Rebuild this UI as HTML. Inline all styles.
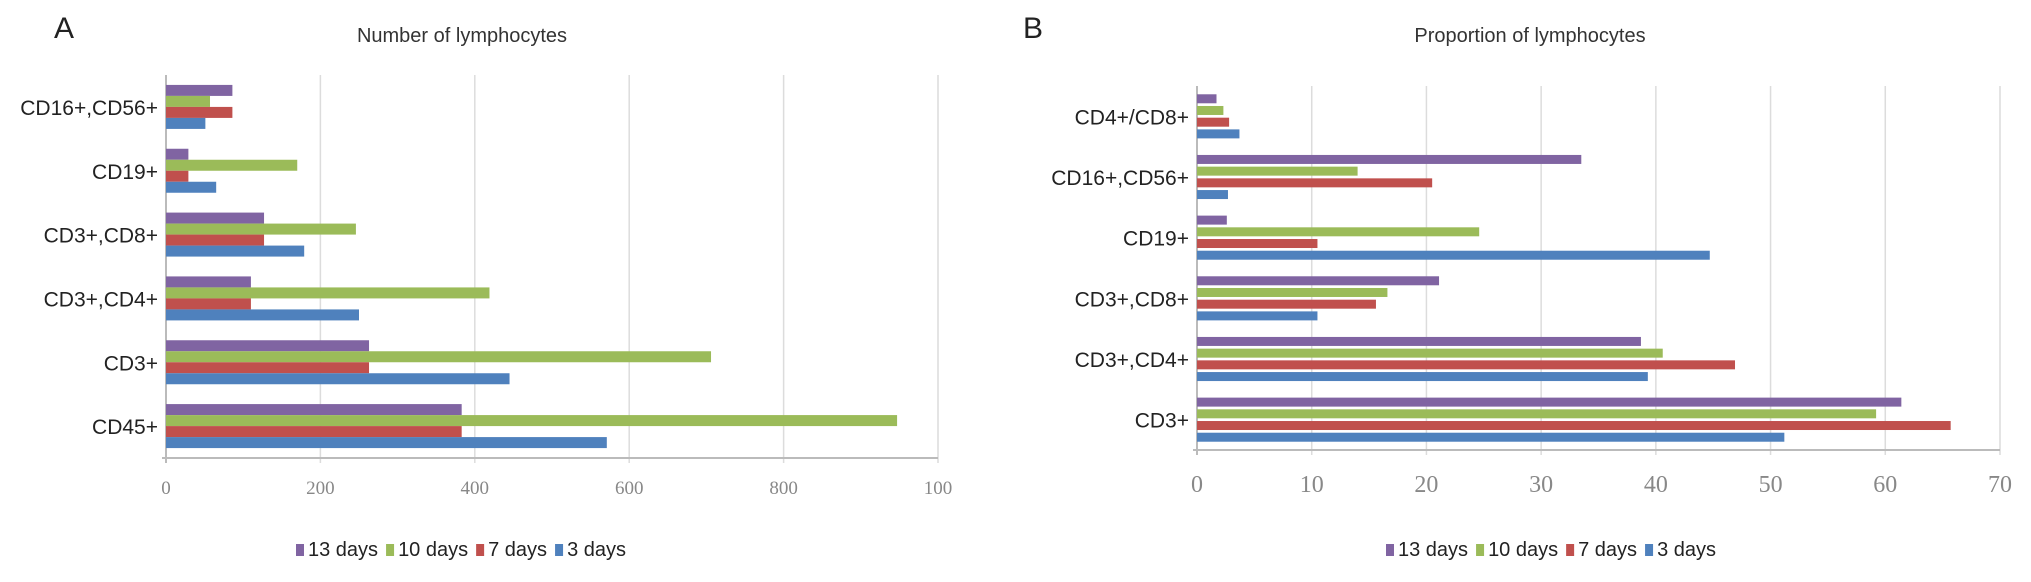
<!DOCTYPE html>
<html><head><meta charset="utf-8"><style>
html,body{margin:0;padding:0;background:#fff;width:2031px;height:582px;overflow:hidden}
svg text{font-family:"Liberation Sans",sans-serif}
svg text.tick{font-family:"Liberation Serif",serif}
</style></head><body>
<svg id="chart" width="2031" height="582">
<text x="54" y="38" font-size="30" fill="#222">A</text>
<text x="462" y="42" font-size="20" fill="#333" text-anchor="middle">Number of lymphocytes</text>
<text x="1023" y="38" font-size="30" fill="#222">B</text>
<text x="1530" y="42" font-size="20" fill="#333" text-anchor="middle">Proportion of lymphocytes</text>
<g id="pa"></g><g id="pb"></g>
</svg>
<script>
const seriesNames=["13 days","10 days","7 days","3 days"];
const seriesColors=["#8064a2","#9bbb59","#c0504d","#4f81bd"];
const catsA=["CD16+,CD56+","CD19+","CD3+,CD8+","CD3+,CD4+","CD3+","CD45+"];
const a13=[86,29,127,110,263,383];
const a10=[57,170,246,419,706,947];
const a7=[86,29,127,110,263,383];
const a3=[51,65,179,250,445,571];
const ticksA=["0","200","400","600","800","100"];
const catsB=["CD4+/CD8+","CD16+,CD56+","CD19+","CD3+,CD8+","CD3+,CD4+","CD3+"];
const b13=[1.7,33.5,2.6,21.1,38.7,61.4];
const b10=[2.3,14.0,24.6,16.6,40.6,59.2];
const b7=[2.8,20.5,10.5,15.6,46.9,65.7];
const b3=[3.7,2.7,44.7,10.5,39.3,51.2];
const ticksB=["0","10","20","30","40","50","60","70"];
const NS="http://www.w3.org/2000/svg";
function mk(parent,tag,attrs){const e=document.createElementNS(NS,tag);for(const k in attrs)e.setAttribute(k,attrs[k]);parent.appendChild(e);return e;}
function panel(g,o){
  const sx=v=>o.x0+(o.x1-o.x0)*v/o.max;
  const band=(o.yb-o.yt)/o.cats.length;
  o.ticks.forEach((t,i)=>{
    const v=o.max*i/(o.ticks.length-1);
    const gl=mk(g,"line",{x1:sx(v),x2:sx(v),y1:o.yt,y2:o.yb+5,stroke:i==0?"#bbb":"#dcdcdc","stroke-width":i==0?2:1.5});
    
    
    const tl=mk(g,"text",{x:sx(v),y:o.ty,"font-size":o.tfs,fill:"#888","text-anchor":"middle","class":"tick"});
    tl.textContent=t;
    
    
  });
  const ax=mk(g,"line",{x1:o.x0-4,x2:o.x1,y1:o.yb,y2:o.yb,stroke:"#bbb","stroke-width":2});
  
  
  o.cats.forEach((c,i)=>{
    const cy=o.yt+band*(i+0.5);
    const cl=mk(g,"text",{x:o.x0-8,y:cy+8,"font-size":21,fill:"#222","text-anchor":"end"});
    cl.textContent=c;
    
    
    const top=cy-o.pitch*2;
    o.series.forEach((s,j)=>{
      const r=mk(g,"rect",{x:o.x0,y:top+j*o.pitch+(o.pitch-o.bh)/2,width:sx(s[i])-o.x0,height:o.bh,fill:seriesColors[j]});
      
      
    });
  });
  let lx=o.lx;
  seriesNames.forEach((n,j)=>{
    const sq=mk(g,"rect",{x:lx,y:o.ly-12,width:8,height:12,fill:seriesColors[j]});
    
    
    const t=mk(g,"text",{x:lx+12,y:o.ly,"font-size":20,fill:"#222"});
    t.textContent=n;
    
    
    lx+=12+t.getComputedTextLength()+8;
  });
}
panel(document.getElementById("pa"),{cats:catsA,series:[a13,a10,a7,a3],ticks:ticksA,max:1000,x0:166,x1:938,yt:75,yb:458,ty:494,tfs:19,pitch:11,bh:11,lx:296,ly:556});
panel(document.getElementById("pb"),{cats:catsB,series:[b13,b10,b7,b3],ticks:ticksB,max:70,x0:1197,x1:2000,yt:86,yb:450,ty:492,tfs:24,pitch:11.7,bh:9,lx:1386,ly:556});
</script>
</body></html>
